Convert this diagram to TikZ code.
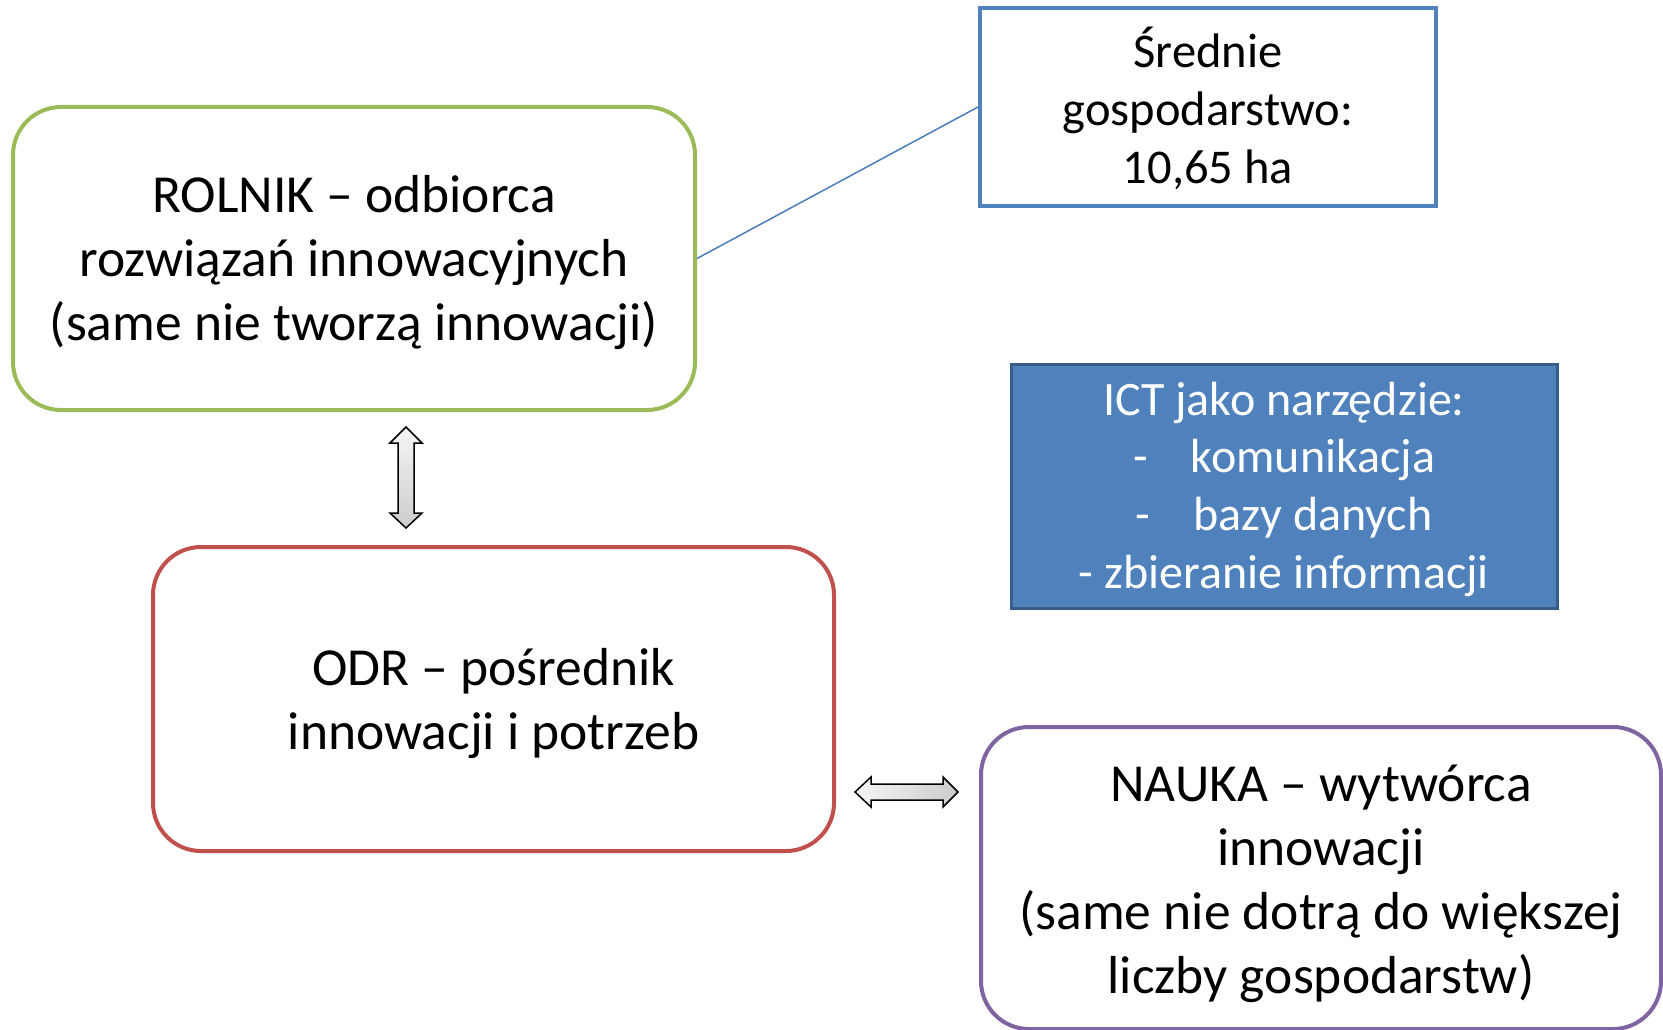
\documentclass[tikz,border=0pt]{standalone}
\usepackage{fontspec}
\setmainfont{Carlito}
\usetikzlibrary{calc}
\definecolor{rolgreen}{HTML}{9BBB59}
\definecolor{odrred}{HTML}{C0504D}
\definecolor{naupurple}{HTML}{8064A2}
\definecolor{acblue}{HTML}{4F81BD}
\definecolor{acdark}{HTML}{385D8A}
\definecolor{linkblue}{HTML}{4A7EBB}
\newcommand{\boxlines}[2]{\raisebox{-#1}[\height][\depth]{\begin{tabular}{@{}c@{}}#2\end{tabular}}}
\begin{document}
\begin{tikzpicture}[x=1pt,y=-1pt,
  box/.style={draw, line width=4pt, rounded corners=48pt, fill=white,
    inner sep=0pt, font=\fontsize{53.5}{64}\selectfont},
  sqbox/.style={draw=acblue, line width=4pt, fill=white, inner sep=0pt,
    font=\fontsize{48.5}{58}\selectfont},
  ictbox/.style={draw=acdark, line width=3pt, fill=acblue, text=white,
    inner sep=0pt, font=\fontsize{48}{57.6}\selectfont},
  blockarrow/.style={draw=black, line width=1.5pt, line join=miter}]
\useasboundingbox (0,0) rectangle (1663,1030);
\fill[white] (0,0) rectangle (1663,1030);

\node[box, draw=rolgreen, minimum width=682pt, minimum height=303pt] (rolnik) at (354,258.5)
  {\boxlines{5.3pt}{ROLNIK – odbiorca\\rozwiązań innowacyjnych\\(same nie tworzą innowacji)}};
\node[sqbox, minimum width=456pt, minimum height=197pt] (srednie) at (1208,107)
  {\boxlines{6.8pt}{Średnie\\gospodarstwo:\\10,65 ha}};
\node[ictbox, minimum width=546pt, minimum height=244pt] (ict) at (1284,486)
  {\boxlines{4.2pt}{ICT jako narzędzie:\\-\hspace{0.9em}komunikacja\\-\hspace{0.9em}bazy danych\\- zbieranie informacji}};
\node[box, draw=odrred, minimum width=681pt, minimum height=304pt] (odr) at (493.5,699)
  {\boxlines{5.8pt}{ODR – pośrednik\\innowacji i potrzeb}};
\node[box, draw=naupurple, minimum width=680pt, minimum height=302pt] (nauka) at (1321,878)
  {\boxlines{6.7pt}{NAUKA – wytwórca\\innowacji\\(same nie dotrą do większej\\liczby gospodarstw)}};

\draw[linkblue, line width=1.5pt] (rolnik.east) -- (srednie.west);

\coordinate (vt) at ($(rolnik.south)+(52,15)$);
\coordinate (vb) at ($(odr.north)+(-87.5,-17)$);
\shade[blockarrow, top color=gray!8, bottom color=gray!40]
  (vt) -- ++(16,16) -- ++(-8,0) -- ($(vb)+(8,-15)$) -- ++(8,0) -- (vb)
  -- ++(-16,-15) -- ++(8,0) -- ($(vt)+(-8,16)$) -- ++(-8,0) -- cycle;

\coordinate (hl) at ($(odr.east)+(19,93)$);
\coordinate (hr) at ($(nauka.west)+(-21,-86)$);
\shade[blockarrow, left color=gray!8, right color=gray!40]
  (hl) -- ++(16,-15) -- ++(0,7) -- ($(hr)+(-15,-8)$) -- ++(0,-7) -- (hr)
  -- ++(-15,15) -- ++(0,-7) -- ($(hl)+(16,8)$) -- ++(0,7) -- cycle;
\end{tikzpicture}
\end{document}
